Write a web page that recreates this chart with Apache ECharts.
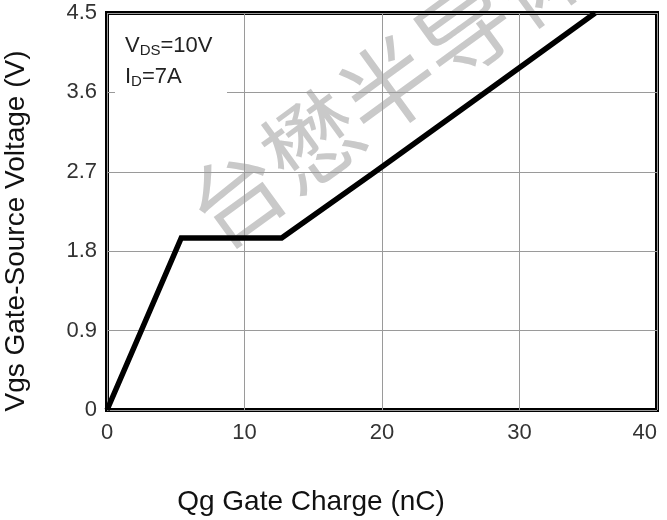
<!DOCTYPE html>
<html>
<head>
<meta charset="utf-8">
<script src="https://cdn.jsdelivr.net/npm/echarts@6/dist/echarts.min.js"></script>
<style>
  html, body { margin: 0; padding: 0; background: #fff; }
  #chart { width: 667px; height: 520px; }
</style>
</head>
<body>
<div id="chart"></div>
<script>
// Gate charge curve: Qg (nC) vs Vgs (V)
const qgCharge = [0, 5.4, 12.7, 19.5, 27.5, 35.5];
const vgsVoltage = [0, 1.95, 1.95, 2.7, 3.6, 4.5];

// Axis ticks
const xTicks = [0, 10, 20, 30, 40];
const yTicks = [0, 0.9, 1.8, 2.7, 3.6, 4.5];
const yTickLabels = ['0', '0.9', '1.8', '2.7', '3.6', '4.5'];

const FONT = 'Liberation Sans, Arial, sans-serif';

const chart = echarts.init(document.getElementById('chart'), null, { renderer: 'canvas' });

const curve = qgCharge.map((q, i) => [q, vgsVoltage[i]]);

const yLabelFor = v => {
  let best = 0;
  yTicks.forEach((t, i) => { if (Math.abs(t - v) < Math.abs(yTicks[best] - v)) best = i; });
  return yTickLabels[best];
};

chart.setOption({
  animation: false,
  backgroundColor: '#fff',
  grid: {
    left: 107, right: 10, top: 13, bottom: 110,
    show: true, borderColor: '#000', borderWidth: 4, backgroundColor: 'transparent'
  },
  xAxis: {
    type: 'value',
    min: xTicks[0], max: xTicks[xTicks.length - 1],
    interval: xTicks[1] - xTicks[0],
    axisLine: { show: false },
    axisTick: { show: false },
    splitLine: { show: true, lineStyle: { color: '#9a9a9a', width: 1 } },
    axisLabel: {
      color: '#333', fontFamily: FONT, fontSize: 22, margin: 12,
      alignMaxLabel: 'right'
    }
  },
  yAxis: {
    type: 'value',
    min: yTicks[0], max: yTicks[yTicks.length - 1],
    interval: 0.9,
    axisLine: { show: false },
    axisTick: { show: false },
    splitLine: { show: true, lineStyle: { color: '#9a9a9a', width: 1 } },
    axisLabel: {
      color: '#333', fontFamily: FONT, fontSize: 22, margin: 10,
      formatter: v => yLabelFor(v)
    }
  },
  series: [{
    type: 'line',
    data: curve,
    symbol: 'none',
    z: 5,
    lineStyle: { color: '#000', width: 5.5, join: 'miter' }
  }],
  graphic: [
    // faint watermark behind the plot
    {
      type: 'text', z: -10, silent: true,
      x: 388, y: 86, rotation: 36 * Math.PI / 180,
      style: {
        text: '台懋半导体', fill: '#c9c9c9',
        font: 'normal 94px "Noto Sans CJK SC"',
        align: 'center', verticalAlign: 'middle'
      }
    },
    // condition box
    {
      type: 'rect', z: 50, silent: true,
      shape: { x: 115, y: 16, width: 112, height: 84 },
      style: { fill: '#fff' }
    },
    { type: 'text', z: 51, x: 125, y: 46, style: { text: 'V', fill: '#222', font: '22px ' + FONT, align: 'left', verticalAlign: 'middle' } },
    { type: 'text', z: 51, x: 139.7, y: 51, style: { text: 'DS', fill: '#222', font: '15px ' + FONT, align: 'left', verticalAlign: 'middle' } },
    { type: 'text', z: 51, x: 160.5, y: 46, style: { text: '=10V', fill: '#222', font: '22px ' + FONT, align: 'left', verticalAlign: 'middle' } },
    { type: 'text', z: 51, x: 125, y: 77, style: { text: 'I', fill: '#222', font: '22px ' + FONT, align: 'left', verticalAlign: 'middle' } },
    { type: 'text', z: 51, x: 131.1, y: 82, style: { text: 'D', fill: '#222', font: '15px ' + FONT, align: 'left', verticalAlign: 'middle' } },
    { type: 'text', z: 51, x: 141.9, y: 77, style: { text: '=7A', fill: '#222', font: '22px ' + FONT, align: 'left', verticalAlign: 'middle' } },
    // axis titles
    {
      type: 'text', z: 51, x: 16, y: 231, rotation: Math.PI / 2,
      style: { text: 'Vgs Gate-Source Voltage (V)', fill: '#111', font: '28px ' + FONT, align: 'center', verticalAlign: 'middle' }
    },
    {
      type: 'text', z: 51, x: 311, y: 502,
      style: { text: 'Qg Gate Charge (nC)', fill: '#111', font: '28px ' + FONT, align: 'center', verticalAlign: 'middle' }
    }
  ]
});
</script>
</body>
</html>
